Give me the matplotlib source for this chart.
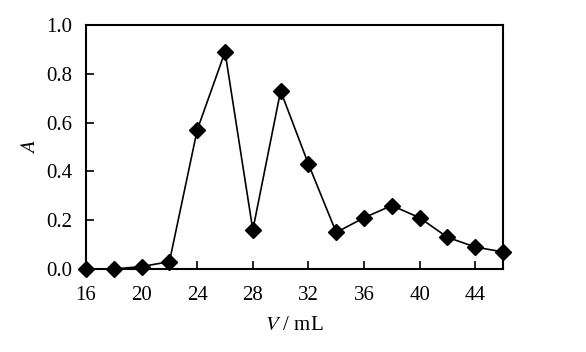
import numpy as np
import matplotlib
matplotlib.use('Agg')
import matplotlib.pyplot as plt

plt.rcParams['font.family'] = ['Liberation Serif', 'DejaVu Serif']
plt.rcParams['mathtext.fontset'] = 'stix'

# elution volume (mL) and absorbance
volume = [16, 18, 20, 22, 24, 26, 28, 30, 32, 34, 36, 38, 40, 42, 44, 46]
absorb = [0.0, 0.0, 0.01, 0.03, 0.57, 0.89, 0.16, 0.73, 0.43, 0.15, 0.21, 0.26, 0.21, 0.13, 0.09, 0.07]

x_ticks = [16, 20, 24, 28, 32, 36, 40, 44]
y_ticks = [0.0, 0.2, 0.4, 0.6, 0.8, 1.0]

fig = plt.figure(figsize=(5.86, 3.52), dpi=100)
ax = fig.add_axes([0.1468, 0.2358, 0.7116, 0.6932])

ax.plot(volume, absorb, color='black', lw=1.2, marker='D', markersize=8,
        markerfacecolor='black', markeredgecolor='black', clip_on=False, zorder=3)

ax.set_xlim(16, 46)
ax.set_ylim(0, 1.0)
ax.set_xticks(x_ticks)
ax.set_yticks(y_ticks)
ax.set_yticklabels(['%.1f' % v for v in y_ticks])
ax.tick_params(direction='in', length=6, width=1.2, labelsize=15)
ax.tick_params(axis='x', pad=12)
ax.tick_params(axis='y', pad=10)
for s in ax.spines.values():
    s.set_linewidth(1.5)

ax.set_xlabel(r'$V$ / mL', fontsize=15, labelpad=8)
ax.set_ylabel(r'$A$', fontsize=15, labelpad=4)

fig.savefig('out.png', dpi=100)
